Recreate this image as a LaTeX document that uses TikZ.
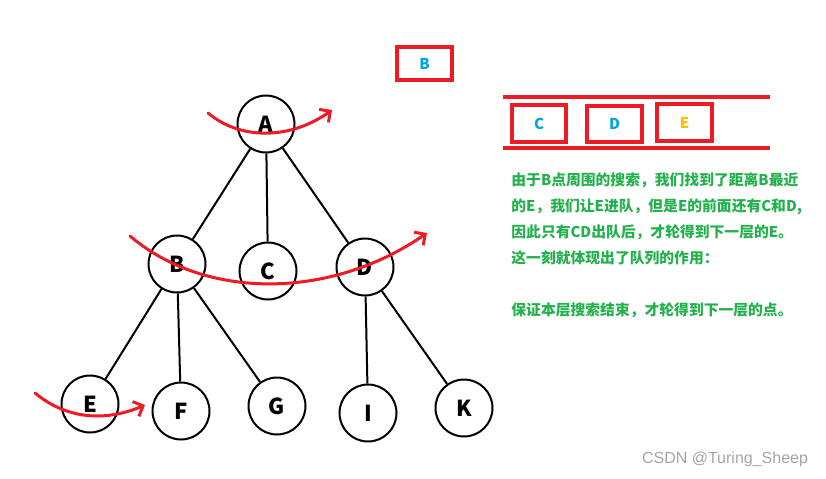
\documentclass[tikz,border=0pt]{standalone}
\usepackage{fontspec}
\setmainfont{Noto Sans CJK SC}
\setsansfont{Noto Sans CJK SC}
\usetikzlibrary{arrows.meta,positioning}

\definecolor{paintred}{RGB}{237,28,36}
\definecolor{paintblue}{RGB}{0,162,232}
\definecolor{paintorange}{RGB}{255,190,0}
\definecolor{paintgreen}{RGB}{34,177,76}
\definecolor{markgray}{RGB}{165,165,165}

\tikzset{
  vertex/.style={circle,draw,line width=1pt,minimum size=28.5pt,inner sep=0pt,
    font=\fontsize{11}{11}\selectfont\bfseries},
  edge/.style={line width=1pt},
  sweep/.style={paintred,line width=1.5pt,line cap=round,
    -{Straight Barb[length=4pt,width=8pt,line width=1.5pt]}},
  qbox/.style={draw=paintred,line width=1.6pt,inner sep=0pt,
    font=\fontsize{7.5}{7.5}\selectfont\bfseries}
}

\begin{document}
\begin{tikzpicture}[x=0.5pt,y=-0.5pt]
\useasboundingbox (0,0) rectangle (826,478);
% tree
\node[vertex] (A) at (266,124) {A};
\node[vertex] (B) at (177,264) {B};
\node[vertex] (C) at (268,271) {C};
\node[vertex] (D) at (365,267) {D};
\node[vertex] (E) at (90,404) {E};
\node[vertex] (F) at (181,411) {F};
\node[vertex] (G) at (277,406) {G};
\node[vertex] (I) at (368,413) {I};
\node[vertex] (K) at (464,408) {K};
\foreach \u/\v in {A/B,A/C,A/D,B/E,B/F,B/G,D/I,D/K}
  \draw[edge] (\u) -- (\v);
% level sweeps
\coordinate (s1) at (208,113); \coordinate (t1) at (332,110);
\coordinate (s2) at (130,236); \coordinate (t2) at (427,233);
\coordinate (s3) at (35,393);  \coordinate (t3) at (145,405);
\draw[sweep] (s1) .. controls (240,140) and (290,140) .. (t1);
\draw[sweep] (s2) .. controls (205,300) and (330,300) .. (t2);
\draw[sweep] (s3) .. controls (70,422) and (110,420) .. (t3);
% current node and queue
\node[qbox,minimum width=27.5pt,minimum height=16.5pt,text=paintblue] (cur) at (424.5,63.5) {B};
\draw[paintred,line width=1.6pt] (503,97) coordinate (qtl) -- (770,97) coordinate (qtr);
\draw[paintred,line width=1.6pt] (503,148) coordinate (qbl) -- (770,148) coordinate (qbr);
\node[qbox,minimum width=27pt,minimum height=18.5pt,text=paintblue] (qC) at (539,123.5) {C};
\node[qbox,minimum width=27.5pt,minimum height=18pt,text=paintblue] (qD) at (614.5,124) {D};
\node[qbox,minimum width=27.5pt,minimum height=18.5pt,text=paintorange] (qE) at (684.5,122.5) {E};
% note
\node[anchor=north west,align=left,text=paintgreen,inner sep=0pt,
  font=\fontsize{7.4}{13}\selectfont\bfseries] (note) at (511,172)
  {由于B点周围的搜索，我们找到了距离B最近\\
   的E，我们让E进队，但是E的前面还有C和D,\\
   因此只有CD出队后，才轮得到下一层的E。\\
   这一刻就体现出了队列的作用：\\[13pt]
   保证本层搜索结束，才轮得到下一层的点。};
\node[text=markgray,font=\fontsize{8}{8}\selectfont\fontspec{Liberation Sans}] (mark) at (725,459) {CSDN @Turing\_Sheep};
\end{tikzpicture}
\end{document}
